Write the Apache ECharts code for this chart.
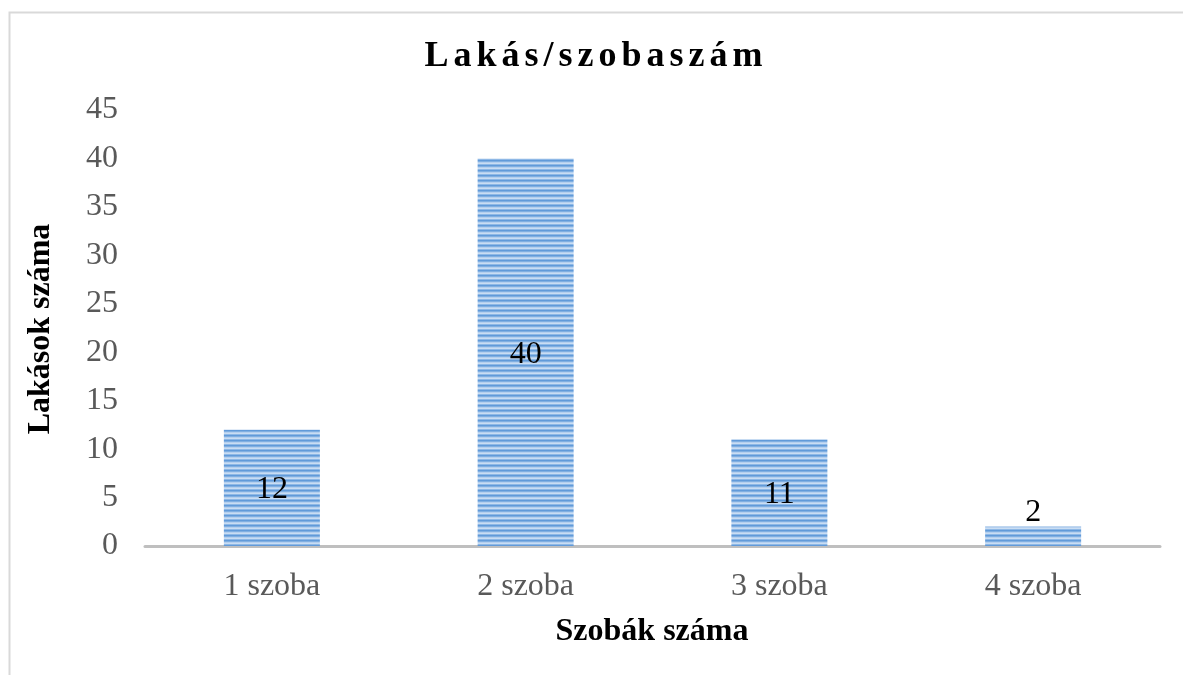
<!DOCTYPE html>
<html>
<head>
<meta charset="utf-8">
<script src="https://cdn.jsdelivr.net/npm/echarts@6/dist/echarts.min.js"></script>
<style>
html,body{margin:0;padding:0;background:#fff;}
#chart{width:1183px;height:675px;}
</style>
</head>
<body>
<div id="chart"></div>
<script>
const chartTitle = 'Lakás/szobaszám';
const categories = ['1 szoba', '2 szoba', '3 szoba', '4 szoba'];
const values = [12, 40, 11, 2];
const yTicks = [0, 5, 10, 15, 20, 25, 30, 35, 40, 45];
const yAxisTitle = 'Lakások száma';
const xAxisTitle = 'Szobák száma';

// letter-spaced title drawing (only for the title string)
const origFill = CanvasRenderingContext2D.prototype.fillText;
CanvasRenderingContext2D.prototype.fillText = function (t, x, y, m) {
  const args = m === undefined ? [t, x, y] : [t, x, y, m];
  if ('letterSpacing' in this) {
    const f = this.font;
    if (t === chartTitle) {
      this.letterSpacing = '5px';
      this.font = f;
      const r = origFill.apply(this, args);
      this.letterSpacing = '0px';
      this.font = f;
      return r;
    } else if (this.letterSpacing !== '0px') {
      this.letterSpacing = '0px';
      this.font = f;
    }
  }
  return origFill.apply(this, args);
};

// stripe pattern
const pc = document.createElement('canvas');
pc.width = 4; pc.height = 5;
const pctx = pc.getContext('2d');
const rows = ['#619ad9', '#80afe1', '#b4cfef', '#c9ddf3', '#8eb8e6'];
rows.forEach((c, i) => { pctx.fillStyle = c; pctx.fillRect(0, i, 4, 1); });

const chart = echarts.init(document.getElementById('chart'), null, {renderer: 'canvas'});
const serif = '"Liberation Serif", "Times New Roman", serif';

const data = values.map((v, i) => {
  const d = {value: v};
  if (v < 4) d.label = {position: 'top', distance: -2, offset: [0, 0]};
  return d;
});

chart.setOption({
  animation: false,
  backgroundColor: '#fff',
  grid: {left: 145, right: 23, top: 110, bottom: 129, containLabel: false},
  xAxis: {
    type: 'category',
    data: categories,
    axisLine: {show: true, lineStyle: {color: '#bfbfbf', width: 3}},
    axisTick: {show: false},
    axisLabel: {color: '#595959', fontFamily: serif, fontSize: 32, margin: 25}
  },
  yAxis: {
    type: 'value',
    min: 0, max: 45, interval: 5,
    axisLine: {show: false},
    axisTick: {show: false},
    splitLine: {show: false},
    axisLabel: {color: '#595959', fontFamily: serif, fontSize: 32, margin: 27,
      formatter: v => yTicks.includes(v) ? String(v) : ''}
  },
  series: [{
    type: 'bar',
    data: data,
    barWidth: 96,
    itemStyle: {color: {image: pc, repeat: 'repeat'}},
    label: {show: true, position: 'inside', offset: [0, 2], color: '#000', fontFamily: serif, fontSize: 32}
  }],
  graphic: [
    {type: 'rect', left: 7, top: 10, shape: {x: 0, y: 0, width: 1200, height: 700},
      style: {fill: 'none', stroke: '#d9d9d9', lineWidth: 2}, silent: true, z: -10},
    {type: 'text', x: 596, y: 57, style: {text: chartTitle, fontFamily: serif, fontWeight: 'bold', fontSize: 36,
      fill: '#000', textAlign: 'center', textVerticalAlign: 'middle'}},
    {type: 'text', x: 41, y: 329, rotation: Math.PI / 2, style: {text: yAxisTitle, fontFamily: serif, fontWeight: 'bold', fontSize: 32,
      fill: '#000', textAlign: 'center', textVerticalAlign: 'middle'}},
    {type: 'text', x: 652, y: 632, style: {text: xAxisTitle, fontFamily: serif, fontWeight: 'bold', fontSize: 32,
      fill: '#000', textAlign: 'center', textVerticalAlign: 'middle'}}
  ]
});
</script>
</body>
</html>
